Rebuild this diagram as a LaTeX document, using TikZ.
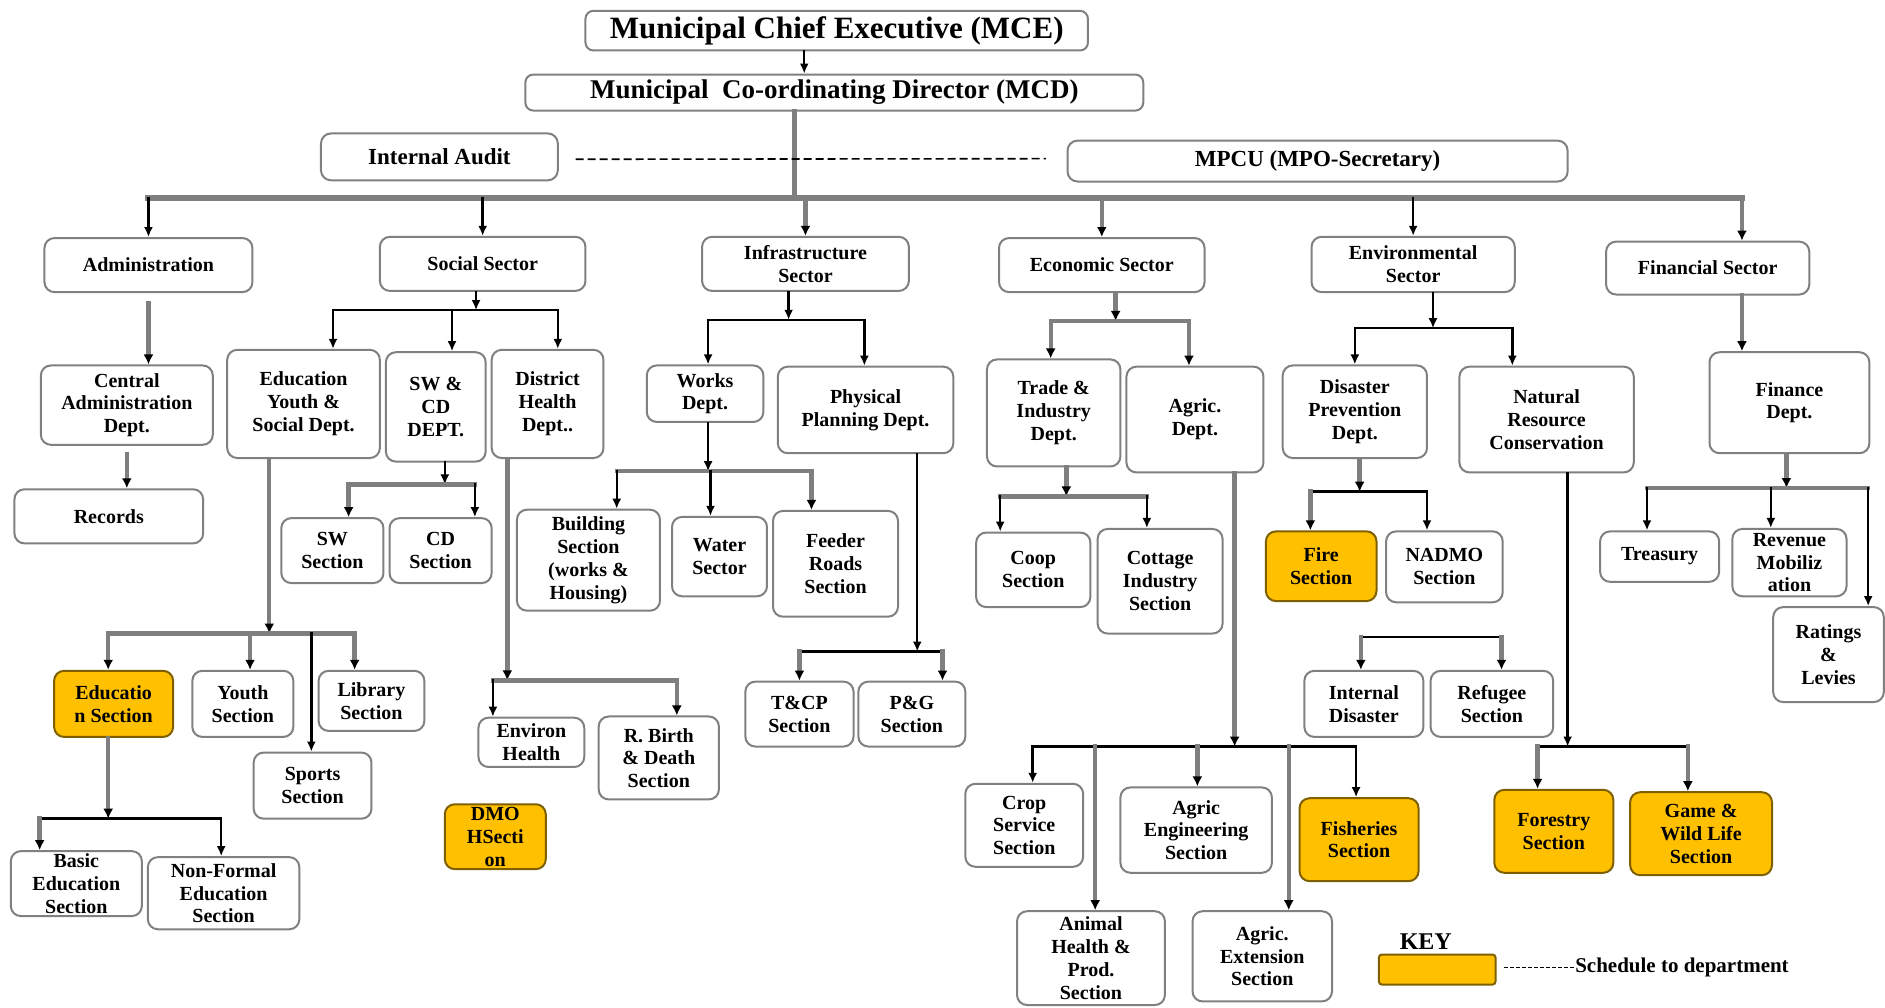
\documentclass[tikz,border=0pt]{standalone}
\usepackage{fontspec}
\setmainfont{Liberation Serif}
\usepackage{tikz}
\usetikzlibrary{arrows.meta}

\definecolor{boxline}{HTML}{808080}
\definecolor{linegray}{HTML}{7F7F7F}
\definecolor{schedfill}{HTML}{FFC000}
\definecolor{schedline}{HTML}{7F6000}

\tikzset{>={Latex[length=5pt,width=4.5pt]}}
\tikzset{font=\fontsize{10}{11.4}\selectfont\bfseries}
\tikzset{unit/.style={draw=boxline, line width=1pt, rounded corners=5pt, fill=white, align=center, inner sep=1pt},
  sched/.style={unit, draw=schedline, fill=schedfill},
  wh/.style 2 args={minimum width=#1*0.6011pt, minimum height=#2*0.6011pt}}
\tikzset{bline/.style={draw=black, line width=1.2pt, line cap=rect},
  gline/.style={draw=linegray, line width=2.2pt, line cap=rect},
  gbus/.style={draw=linegray, line width=3pt, line cap=rect},
  barr/.style={bline, ->},
  garr/.style={gline, -{Latex[length=5pt,width=5pt,color=black]}}}

\begin{document}
\begin{tikzpicture}[x=0.6011pt, y=-0.6011pt]
  \useasboundingbox (0,0) rectangle (1568,838);
  % top of the chart
  \node[unit, rounded corners=4pt, wh={418}{33}, font=\fontsize{15.5}{18}\selectfont\bfseries] (mce) at (696,25.5) {Municipal Chief Executive (MCE)}; %
  \node[unit, rounded corners=4pt, wh={514}{30}, font=\fontsize{13.5}{16}\selectfont\bfseries] (mcd) at (694,77) {Municipal\ \ Co-ordinating Director (MCD)}; %
  \node[unit, wh={197}{39}, font=\fontsize{11.5}{13}\selectfont\bfseries] (audit) at (365.5,130.5) {Internal Audit}; %
  \node[unit, wh={416}{34}, font=\fontsize{11.5}{13}\selectfont\bfseries] (mpcu) at (1096,134) {MPCU (MPO-Secretary)}; %

  % sectors
  \node[unit, wh={173}{45}] (adm) at (123.5,220.5) {Administration}; %
  \node[unit, wh={171}{45}] (soc) at (401.5,219.5) {Social Sector}; %
  \node[unit, wh={172}{45}] (inf) at (670,219.5) {Infrastructure\\Sector}; %
  \node[unit, wh={171}{45}] (eco) at (916.5,220.5) {Economic Sector}; %
  \node[unit, wh={169}{46}] (env) at (1175.5,220) {Environmental\\Sector}; %
  \node[unit, wh={169}{44}] (fin) at (1420.5,223) {Financial Sector}; %

  % administration
  \node[unit, wh={143}{66}] (cad) at (105.5,337) {Central\\Administration\\Dept.}; %
  \node[unit, wh={157}{45}] (rec) at (90.5,429.5) {Records}; %

  % social sector
  \node[unit, wh={127}{90}] (eys) at (252.5,336) {Education\\Youth \&\\Social Dept.}; %
  \node[unit, wh={83}{91}] (swcd) at (362.5,338.5) {SW \&\\CD\\DEPT.}; %
  \node[unit, wh={93}{90}] (dhd) at (455.5,336) {District\\Health\\Dept..}; %
  \node[unit, wh={85}{54}] (sws) at (276.5,458) {SW\\Section}; %
  \node[unit, wh={85}{54}] (cds) at (366.5,458) {CD\\Section}; %
  \node[sched, wh={99}{55}] (edu) at (94.5,585.5) {Educatio\\n Section}; %
  \node[unit, wh={84}{55}] (yth) at (202,585.5) {Youth\\Section}; %
  \node[unit, wh={88}{50}] (lib) at (309,583) {Library\\Section}; %
  \node[unit, wh={98}{55}] (spt) at (260,653.5) {Sports\\Section}; %
  \node[unit, wh={109}{54}] (bas) at (63.5,735) {Basic\\Education\\Section}; %
  \node[unit, wh={126}{60}] (nfe) at (186,743) {Non-Formal\\Education\\Section}; %
  \node[unit, wh={88}{41}] (envh) at (442,617.5) {Environ\\Health}; %
  \node[unit, wh={100}{69}] (rbd) at (548,630.5) {R. Birth\\\& Death\\Section}; %
  \node[sched, wh={84}{54}] (dmo) at (412,696) {DMO\\HSecti\\on}; %

  % infrastructure sector
  \node[unit, wh={97}{47}] (wks) at (586.5,327.5) {Works\\Dept.}; %
  \node[unit, wh={146}{72}] (ppd) at (720,341) {Physical\\Planning Dept.}; %
  \node[unit, wh={119}{84}] (bld) at (489.5,466) {Building\\Section\\(works \&\\Housing)}; %
  \node[unit, wh={79}{66}] (wat) at (598.5,463) {Water\\Sector}; %
  \node[unit, wh={104}{88}] (fdr) at (695,469) {Feeder\\Roads\\Section}; %
  \node[unit, wh={90}{54}] (tcp) at (665,594) {T\&CP\\Section}; %
  \node[unit, wh={89}{54}] (pg) at (758.5,594) {P\&G\\Section}; %

  % economic sector
  \node[unit, wh={111}{89}] (tid) at (876.5,343.5) {Trade \&\\Industry\\Dept.}; %
  \node[unit, wh={114}{88}] (agd) at (994,349) {Agric.\\Dept.}; %
  \node[unit, wh={95}{62}] (coop) at (859.5,474) {Coop\\Section}; %
  \node[unit, wh={104}{87}] (cot) at (965,483.5) {Cottage\\Industry\\Section}; %
  \node[unit, wh={98}{69}] (crp) at (852,686.5) {Crop\\Service\\Section}; %
  \node[unit, wh={126}{71}] (aen) at (995,690.5) {Agric\\Engineering\\Section}; %
  \node[sched, wh={99}{69}] (fsh) at (1130.5,698.5) {Fisheries\\Section}; %
  \node[unit, wh={123}{78}] (anh) at (907.5,797) {Animal\\Health \&\\Prod.\\Section}; %
  \node[unit, wh={116}{75}] (aex) at (1050,795.5) {Agric.\\Extension\\Section}; %

  % environmental sector
  \node[unit, wh={120}{77}] (dpd) at (1127,342.5) {Disaster\\Prevention\\Dept.}; %
  \node[unit, wh={145}{88}] (nrc) at (1286.5,349) {Natural\\Resource\\Conservation}; %
  \node[sched, wh={92}{58}] (fire) at (1099,471) {Fire\\Section}; %
  \node[unit, wh={97}{59}] (nad) at (1201.5,471.5) {NADMO\\Section}; %
  \node[unit, wh={99}{55}] (idis) at (1134.5,585.5) {Internal\\Disaster}; %
  \node[unit, wh={102}{55}] (ref) at (1241,585.5) {Refugee\\Section}; %
  \node[sched, wh={99}{69}] (frs) at (1292.5,691.5) {Forestry\\Section}; %
  \node[sched, wh={118}{69}] (gwl) at (1415,693.5) {Game \&\\Wild Life\\Section}; %

  % financial sector
  \node[unit, wh={133}{84}] (fnd) at (1488.5,335) {Finance\\Dept.}; %
  \node[unit, wh={99}{42}] (trs) at (1380.5,463) {Treasury}; %
  \node[unit, wh={95}{56}] (rev) at (1488.5,468) {Revenue\\Mobiliz\\ation}; %
  \node[unit, wh={92}{79}] (rat) at (1521,544.5) {Ratings\\\&\\Levies}; %

  % key
  \node[font=\fontsize{12}{14}\selectfont\bfseries] (keyt) at (1186,783) {KEY}; %
  \node[sched, rounded corners=1.5pt, wh={97}{25}] (keyb) at (1195.5,806.5) {}; %
  \node[anchor=west, inner sep=0pt, font=\fontsize{10.5}{12}\selectfont\bfseries] (lgd) at (1310,805) {Schedule to department}; %
  \draw[dash pattern=on 2pt off 1pt, line width=0.6pt] (lgd.west -| keyb.east) ++(6,0) -- (lgd.west); %

  % top connectors
  \coordinate (spine) at (661,165);
  \coordinate (fx) at (1449,165);
  \coordinate (dl) at (870,132);
  \draw[barr] (mce.south -| spine) ++(8,0) -- (mcd.north -| 669,0); %
  \draw[gline] (mcd.south -| spine) -- (spine); %
  \draw[dash pattern=on 4pt off 2pt, line width=0.8pt] (audit.east) ++(14,2) -- (dl); %
  \draw[gbus] (spine -| adm) -- (fx); %
  \foreach \n/\s in {adm/barr, soc/barr, inf/garr, eco/garr, env/barr}
    \draw[\s] (spine -| \n) -- (\n); %
  \draw[garr] (fx) -- (fx |- fin.north); %
  \draw[garr] (fin.south -| fx) -- (fx |- fnd.north); %

  % administration
  \draw[garr] ([yshift=-5pt]adm.south) -- (adm.south |- cad.north); %
  \draw[garr] ([yshift=-4pt]cad.south) -- (cad.south |- rec.north); %

  % social sector
  \foreach \c/\x in {s/396, a/277, b/376, c/464} \coordinate (soc-\c) at (\x,258);
  \draw[barr] (soc.south -| soc-s) -- (soc-s); %
  \draw[bline] (soc-a) -- (soc-c); %
  \foreach \c/\n in {a/eys, b/swcd, c/dhd} \draw[barr] (soc-\c) -- (soc-\c |- \n.north); %

  \foreach \c/\x in {s/370, a/290, b/395} \coordinate (swc-\c) at (\x,403);
  \draw[barr] (swcd.south -| swc-s) -- (swc-s); %
  \draw[gline] (swc-a) -- (swc-b); %
  \foreach \c/\n/\s in {a/sws/garr, b/cds/barr} \draw[\s] (swc-\c) -- (swc-\c |- \n.north); %

  \foreach \c/\x in {s/224, a/90, b/208, c/259, d/295} \coordinate (eys-\c) at (\x,527);
  \draw[garr] (eys.south -| eys-s) -- (eys-s); %
  \draw[gline] (eys-a) -- (eys-d); %
  \foreach \c/\n/\s in {a/edu/garr, b/yth/garr, c/spt/barr, d/lib/garr} \draw[\s] (eys-\c) -- (eys-\c |- \n.north); %

  \foreach \c/\x in {s/90, a/33, b/184} \coordinate (edu-\c) at (\x,681);
  \draw[garr] (edu.south -| edu-s) -- (edu-s); %
  \draw[bline] (edu-a) -- (edu-b); %
  \foreach \c/\n/\s in {a/bas/garr, b/nfe/barr} \draw[\s] (edu-\c) -- (edu-\c |- \n.north); %

  \foreach \c/\x in {s/422, a/410, b/563} \coordinate (dh-\c) at (\x,566);
  \draw[garr] (dhd.south -| dh-s) -- (dh-s); %
  \draw[gline] (dh-a) -- (dh-b); %
  \foreach \c/\n/\s in {a/envh/barr, b/rbd/garr} \draw[\s] (dh-\c) -- (dh-\c |- \n.north); %

  % infrastructure sector
  \foreach \c/\x in {s/656, a/589, b/719} \coordinate (inf-\c) at (\x,266);
  \draw[barr] (inf.south -| inf-s) -- (inf-s); %
  \draw[bline] (inf-a) -- (inf-b); %
  \foreach \c/\n in {a/wks, b/ppd} \draw[barr] (inf-\c) -- (inf-\c |- \n.north); %

  \foreach \c/\x in {s/589, a/513, b/591, c/675} \coordinate (wks-\c) at (\x,392);
  \draw[barr] (wks.south -| wks-s) -- (wks-s); %
  \draw[gline] (wks-a) -- (wks-c); %
  \foreach \c/\n/\s in {a/bld/barr, b/wat/barr, c/fdr/garr} \draw[\s] (wks-\c) -- (wks-\c |- \n.north); %

  \foreach \c/\x in {s/763, a/665, b/784} \coordinate (ppd-\c) at (\x,542);
  \draw[barr] (ppd.south -| ppd-s) -- (ppd-s); %
  \draw[bline] (ppd-a) -- (ppd-b); %
  \foreach \c/\n in {a/tcp, b/pg} \draw[garr] (ppd-\c) -- (ppd-\c |- \n.north); %

  % economic sector
  \foreach \c/\x in {s/928, a/874, b/989} \coordinate (eco-\c) at (\x,267);
  \draw[garr] (eco.south -| eco-s) -- (eco-s); %
  \draw[gline] (eco-a) -- (eco-b); %
  \foreach \c/\n in {a/tid, b/agd} \draw[garr] (eco-\c) -- (eco-\c |- \n.north); %

  \foreach \c/\x in {s/887, a/832, b/954} \coordinate (tid-\c) at (\x,413);
  \draw[garr] (tid.south -| tid-s) -- (tid-s); %
  \draw[gline] (tid-a) -- (tid-b); %
  \foreach \c/\n in {a/coop, b/cot} \draw[barr] (tid-\c) -- (tid-\c |- \n.north); %

  \foreach \c/\x in {s/1027, a/859, b/911, c/996, d/1072, e/1128} \coordinate (agd-\c) at (\x,621);
  \draw[garr] (agd.south -| agd-s) -- (agd-s); %
  \draw[bline] (agd-a) -- (agd-e); %
  \foreach \c/\n/\s in {a/crp/barr, b/anh/garr, c/aen/garr, d/aex/garr, e/fsh/barr} \draw[\s] (agd-\c) -- (agd-\c |- \n.north); %

  % environmental sector
  \foreach \c/\x in {s/1192, a/1127, b/1258} \coordinate (env-\c) at (\x,273);
  \draw[barr] (env.south -| env-s) -- (env-s); %
  \draw[bline] (env-a) -- (env-b); %
  \foreach \c/\n in {a/dpd, b/nrc} \draw[barr] (env-\c) -- (env-\c |- \n.north); %

  \foreach \c/\x in {s/1131, a/1090, b/1187} \coordinate (dpd-\c) at (\x,409);
  \draw[garr] (dpd.south -| dpd-s) -- (dpd-s); %
  \draw[bline] (dpd-a) -- (dpd-b); %
  \foreach \c/\n/\s in {a/fire/garr, b/nad/barr} \draw[\s] (dpd-\c) -- (dpd-\c |- \n.north); %

  \foreach \c/\x in {a/1132, b/1249} \coordinate (dis-\c) at (\x,530);
  \draw[bline] (dis-a) -- (dis-b); %
  \foreach \c/\n in {a/idis, b/ref} \draw[garr] (dis-\c) -- (dis-\c |- \n.north); %

  \foreach \c/\x in {s/1304, a/1279, b/1404} \coordinate (nrc-\c) at (\x,621);
  \draw[barr] (nrc.south -| nrc-s) -- (nrc-s); %
  \draw[bline] (nrc-a) -- (nrc-b); %
  \foreach \c/\n in {a/frs, b/gwl} \draw[garr] (nrc-\c) -- (nrc-\c |- \n.north); %

  % financial sector
  \foreach \c/\x in {s/1486, a/1370, b/1473, c/1554} \coordinate (fnd-\c) at (\x,406);
  \draw[garr] (fnd.south -| fnd-s) -- (fnd-s); %
  \draw[gline] (fnd-a) -- (fnd-c); %
  \foreach \c/\n in {a/trs, b/rev, c/rat} \draw[barr] (fnd-\c) -- (fnd-\c |- \n.north); %
\end{tikzpicture}
\end{document}
